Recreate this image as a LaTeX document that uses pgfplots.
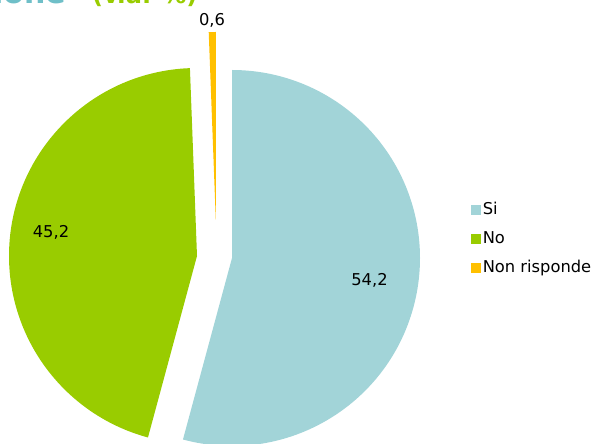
\documentclass[border=0pt]{standalone}
\usepackage{pgfplots}
\pgfplotsset{compat=1.18}
\usepackage{pgfplotstable}
\usepackage{fontspec}
\setmainfont{DejaVu Sans}
\definecolor{cSi}{HTML}{A2D4D8}
\definecolor{cNo}{HTML}{99CC00}
\definecolor{cNR}{HTML}{FFC000}
\definecolor{cTitA}{HTML}{6FBFC8}
\pgfplotstableread{
label value
Si 54.2
No 45.2
NR 0.6
}\piedata
\pgfplotstablegetelem{0}{value}\of\piedata \let\vSi\pgfplotsretval
\pgfplotstablegetelem{1}{value}\of\piedata \let\vNo\pgfplotsretval
\pgfplotstablegetelem{2}{value}\of\piedata \let\vNR\pgfplotsretval
\begin{document}
\begin{tikzpicture}
\useasboundingbox (0,0) rectangle (594pt,444pt);
\clip (0,0) rectangle (594pt,444pt);
\begin{axis}[x=1pt,y=1pt,xmin=0,xmax=594,ymin=0,ymax=444,
  at={(0,0)},anchor=origin,hide axis,clip=false,
  legend style={at={(axis cs:468,205.5)},anchor=west,draw=none,fill=none,
    font=\fontsize{16.3}{19}\selectfont,row sep=11pt,
    nodes={inner sep=2.2pt}},
  legend cell align=left]
\pgfmathsetmacro{\aSi}{90-3.6*\vSi}
\pgfmathsetmacro{\aNo}{90+3.6*\vNo+3.6*\vNR}
\pgfmathsetmacro{\aNR}{90+3.6*\vNR}
% Si slice
\fill[cSi] (axis cs:232,186) -- ++(\aSi:188pt) arc[start angle=\aSi,end angle=90,radius=188pt] -- cycle;
% No slice
\fill[cNo] (axis cs:197,188) -- ++(\aNR:188pt) arc[start angle=\aNR,end angle=\aNo,radius=188pt] -- cycle;
% Non risponde slice
\fill[cNR] (axis cs:215.8,224) -- ++(90:188pt) arc[start angle=90,end angle=\aNR,radius=188pt] -- cycle;
\addlegendimage{legend image code/.code={\fill[cSi] (0pt,-4.5pt) rectangle (9pt,4.5pt);}}
\addlegendentry{Si}
\addlegendimage{legend image code/.code={\fill[cNo] (0pt,-4.5pt) rectangle (9pt,4.5pt);}}
\addlegendentry{No}
\addlegendimage{legend image code/.code={\fill[cNR] (0pt,-4.5pt) rectangle (9pt,4.5pt);}}
\addlegendentry{Non risponde}
\node[font=\fontsize{16.3}{19}\selectfont] at (axis cs:212,424) {0,6};
\node[font=\fontsize{16.3}{19}\selectfont] at (axis cs:369.5,164) {54,2};
\node[font=\fontsize{16.3}{19}\selectfont] at (axis cs:51,211.5) {45,2};
\node[anchor=base east,inner sep=0,font=\fontsize{30}{30}\bfseries,text=cTitA] at (axis cs:66,440) {zione};
\node[anchor=base west,inner sep=0,font=\fontsize{24}{24}\bfseries,text=cNo] at (axis cs:92,440) {(v.a. \%)};
\end{axis}
\end{tikzpicture}
\end{document}
